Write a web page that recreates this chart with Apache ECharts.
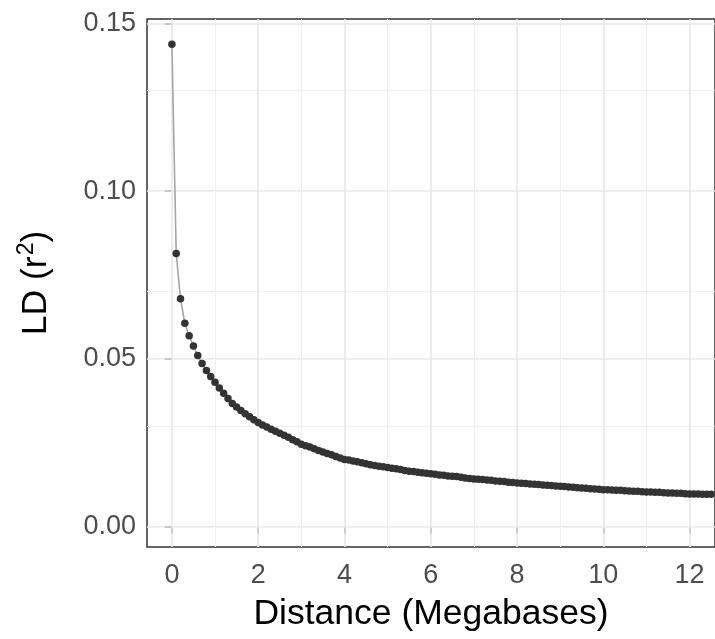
<!DOCTYPE html>
<html>
<head>
<meta charset="utf-8">
<script src="https://cdn.jsdelivr.net/npm/echarts@6/dist/echarts.min.js"></script>
<style>
html,body{margin:0;padding:0;background:#fff;}
#c{width:715px;height:639px;}
</style>
</head>
<body>
<div id="c"></div>
<script>
// Distance (Megabases)
var distance = [
  0.0,0.1,0.2,0.3,0.4,0.5,0.6,0.7,0.8,0.9,
  1.0,1.1,1.2,1.3,1.4,1.5,1.6,1.7,1.8,1.9,
  2.0,2.1,2.2,2.3,2.4,2.5,2.6,2.7,2.8,2.9,
  3.0,3.1,3.2,3.3,3.4,3.5,3.6,3.7,3.8,3.9,
  4.0,4.1,4.2,4.3,4.4,4.5,4.6,4.7,4.8,4.9,
  5.0,5.1,5.2,5.3,5.4,5.5,5.6,5.7,5.8,5.9,
  6.0,6.1,6.2,6.3,6.4,6.5,6.6,6.7,6.8,6.9,
  7.0,7.1,7.2,7.3,7.4,7.5,7.6,7.7,7.8,7.9,
  8.0,8.1,8.2,8.3,8.4,8.5,8.6,8.7,8.8,8.9,
  9.0,9.1,9.2,9.3,9.4,9.5,9.6,9.7,9.8,9.9,
  10.0,10.1,10.2,10.3,10.4,10.5,10.6,10.7,10.8,10.9,
  11.0,11.1,11.2,11.3,11.4,11.5,11.6,11.7,11.8,11.9,
  12.0,12.1,12.2,12.3,12.4,12.5,12.6,12.7
];
// LD (r^2)
var ld = [
  0.1438,0.0814,0.0679,0.0606,0.0569,0.0538,0.0510,0.0486,0.0465,0.0447,
  0.0430,0.0413,0.0397,0.0382,0.0367,0.0356,0.0346,0.0336,0.0327,0.0318,
  0.0310,0.0303,0.0297,0.0290,0.0284,0.0278,0.0272,0.0266,0.0259,0.0253,
  0.0245,0.0241,0.0237,0.0232,0.0227,0.0222,0.0218,0.0214,0.0209,0.0204,
  0.0200,0.0198,0.0195,0.0193,0.0190,0.0187,0.0184,0.0182,0.0180,0.0178,
  0.0176,0.0174,0.0172,0.0170,0.0167,0.0165,0.0164,0.0162,0.0160,0.0159,
  0.0157,0.0156,0.0154,0.0153,0.0151,0.0150,0.0149,0.0147,0.0145,0.0143,
  0.0142,0.0141,0.0140,0.0139,0.0138,0.0136,0.0135,0.0134,0.0132,0.0131,
  0.0130,0.0129,0.0128,0.0127,0.0126,0.0125,0.0124,0.0123,0.0122,0.0121,
  0.0120,0.0119,0.0118,0.0117,0.0116,0.0115,0.0114,0.0113,0.0112,0.0111,
  0.0110,0.0110,0.0109,0.0108,0.0108,0.0107,0.0106,0.0105,0.0105,0.0104,
  0.0103,0.0103,0.0102,0.0102,0.0101,0.0100,0.0100,0.0099,0.0099,0.0098,
  0.0097,0.0097,0.0097,0.0096,0.0096,0.0096,0.0095,0.0095
];
var xTicks = [0,2,4,6,8,10,12];
var xMinor = [1,3,5,7,9,11];
var yTicks = [0,0.05,0.10,0.15];
var yMinor = [0.025,0.075,0.125];

var points = distance.map(function(d,i){ return [d, ld[i]]; });

var FONT = 'Liberation Sans, Arial, sans-serif';
var majorStyle = {color:'#e8e8e8', width:1.6, type:'solid'};
var minorStyle = {color:'#f0f0f0', width:1.0, type:'solid'};
var gridLines = [];
xMinor.forEach(function(v){ gridLines.push({xAxis:v, lineStyle:minorStyle}); });
yMinor.forEach(function(v){ gridLines.push({yAxis:v, lineStyle:minorStyle}); });
xTicks.forEach(function(v){ gridLines.push({xAxis:v, lineStyle:majorStyle}); });
yTicks.forEach(function(v){ gridLines.push({yAxis:v, lineStyle:majorStyle}); });

var chart = echarts.init(document.getElementById('c'), null, {renderer:'canvas'});
chart.setOption({
  animation:false,
  backgroundColor:'#ffffff',
  grid:{left:147, top:19, right:-3, bottom:92, show:true, borderColor:'#333333', borderWidth:1.5, backgroundColor:'#ffffff', containLabel:false},
  xAxis:{
    type:'value', min:-0.577, max:12.59,
    name:'Distance (Megabases)', nameLocation:'middle', nameGap:49,
    nameTextStyle:{fontFamily:FONT, fontSize:35.5, color:'#000'},
    axisLine:{show:false},
    axisTick:{show:true, length:7, customValues:xTicks, lineStyle:{color:'#333333', width:1.5}},
    axisLabel:{customValues:xTicks, margin:15, fontFamily:FONT, fontSize:27, color:'#4d4d4d'},
    splitLine:{show:false}
  },
  yAxis:{
    type:'value', min:-0.0061, max:0.1513,
    name:'{a|LD (r}{s|2}{a|)}', nameLocation:'middle', nameGap:90, nameRotate:90,
    nameTextStyle:{fontFamily:FONT, color:'#000',
      rich:{a:{fontFamily:FONT, fontSize:35.5, color:'#000', lineHeight:42},
            s:{fontFamily:FONT, fontSize:23, color:'#000', verticalAlign:'top', lineHeight:42, padding:[0,0,0,1]}}},
    axisLine:{show:false},
    axisTick:{show:true, length:7, customValues:yTicks, lineStyle:{color:'#333333', width:1.5}},
    axisLabel:{customValues:yTicks, margin:11, fontFamily:FONT, fontSize:27, color:'#4d4d4d',
      formatter:function(v){ return v.toFixed(2); }},
    splitLine:{show:false}
  },
  series:[
    {type:'line', data:[], z:1, silent:true,
     markLine:{silent:true, symbol:'none', label:{show:false}, z:1, animation:false, data:gridLines}},
    {type:'line', data:points, z:3, symbol:'circle', symbolSize:7.5, showAllSymbol:true,
     lineStyle:{color:'#a6a6a6', width:1.6},
     itemStyle:{color:'#333333'}, silent:true}
  ]
});
</script>
</body>
</html>
